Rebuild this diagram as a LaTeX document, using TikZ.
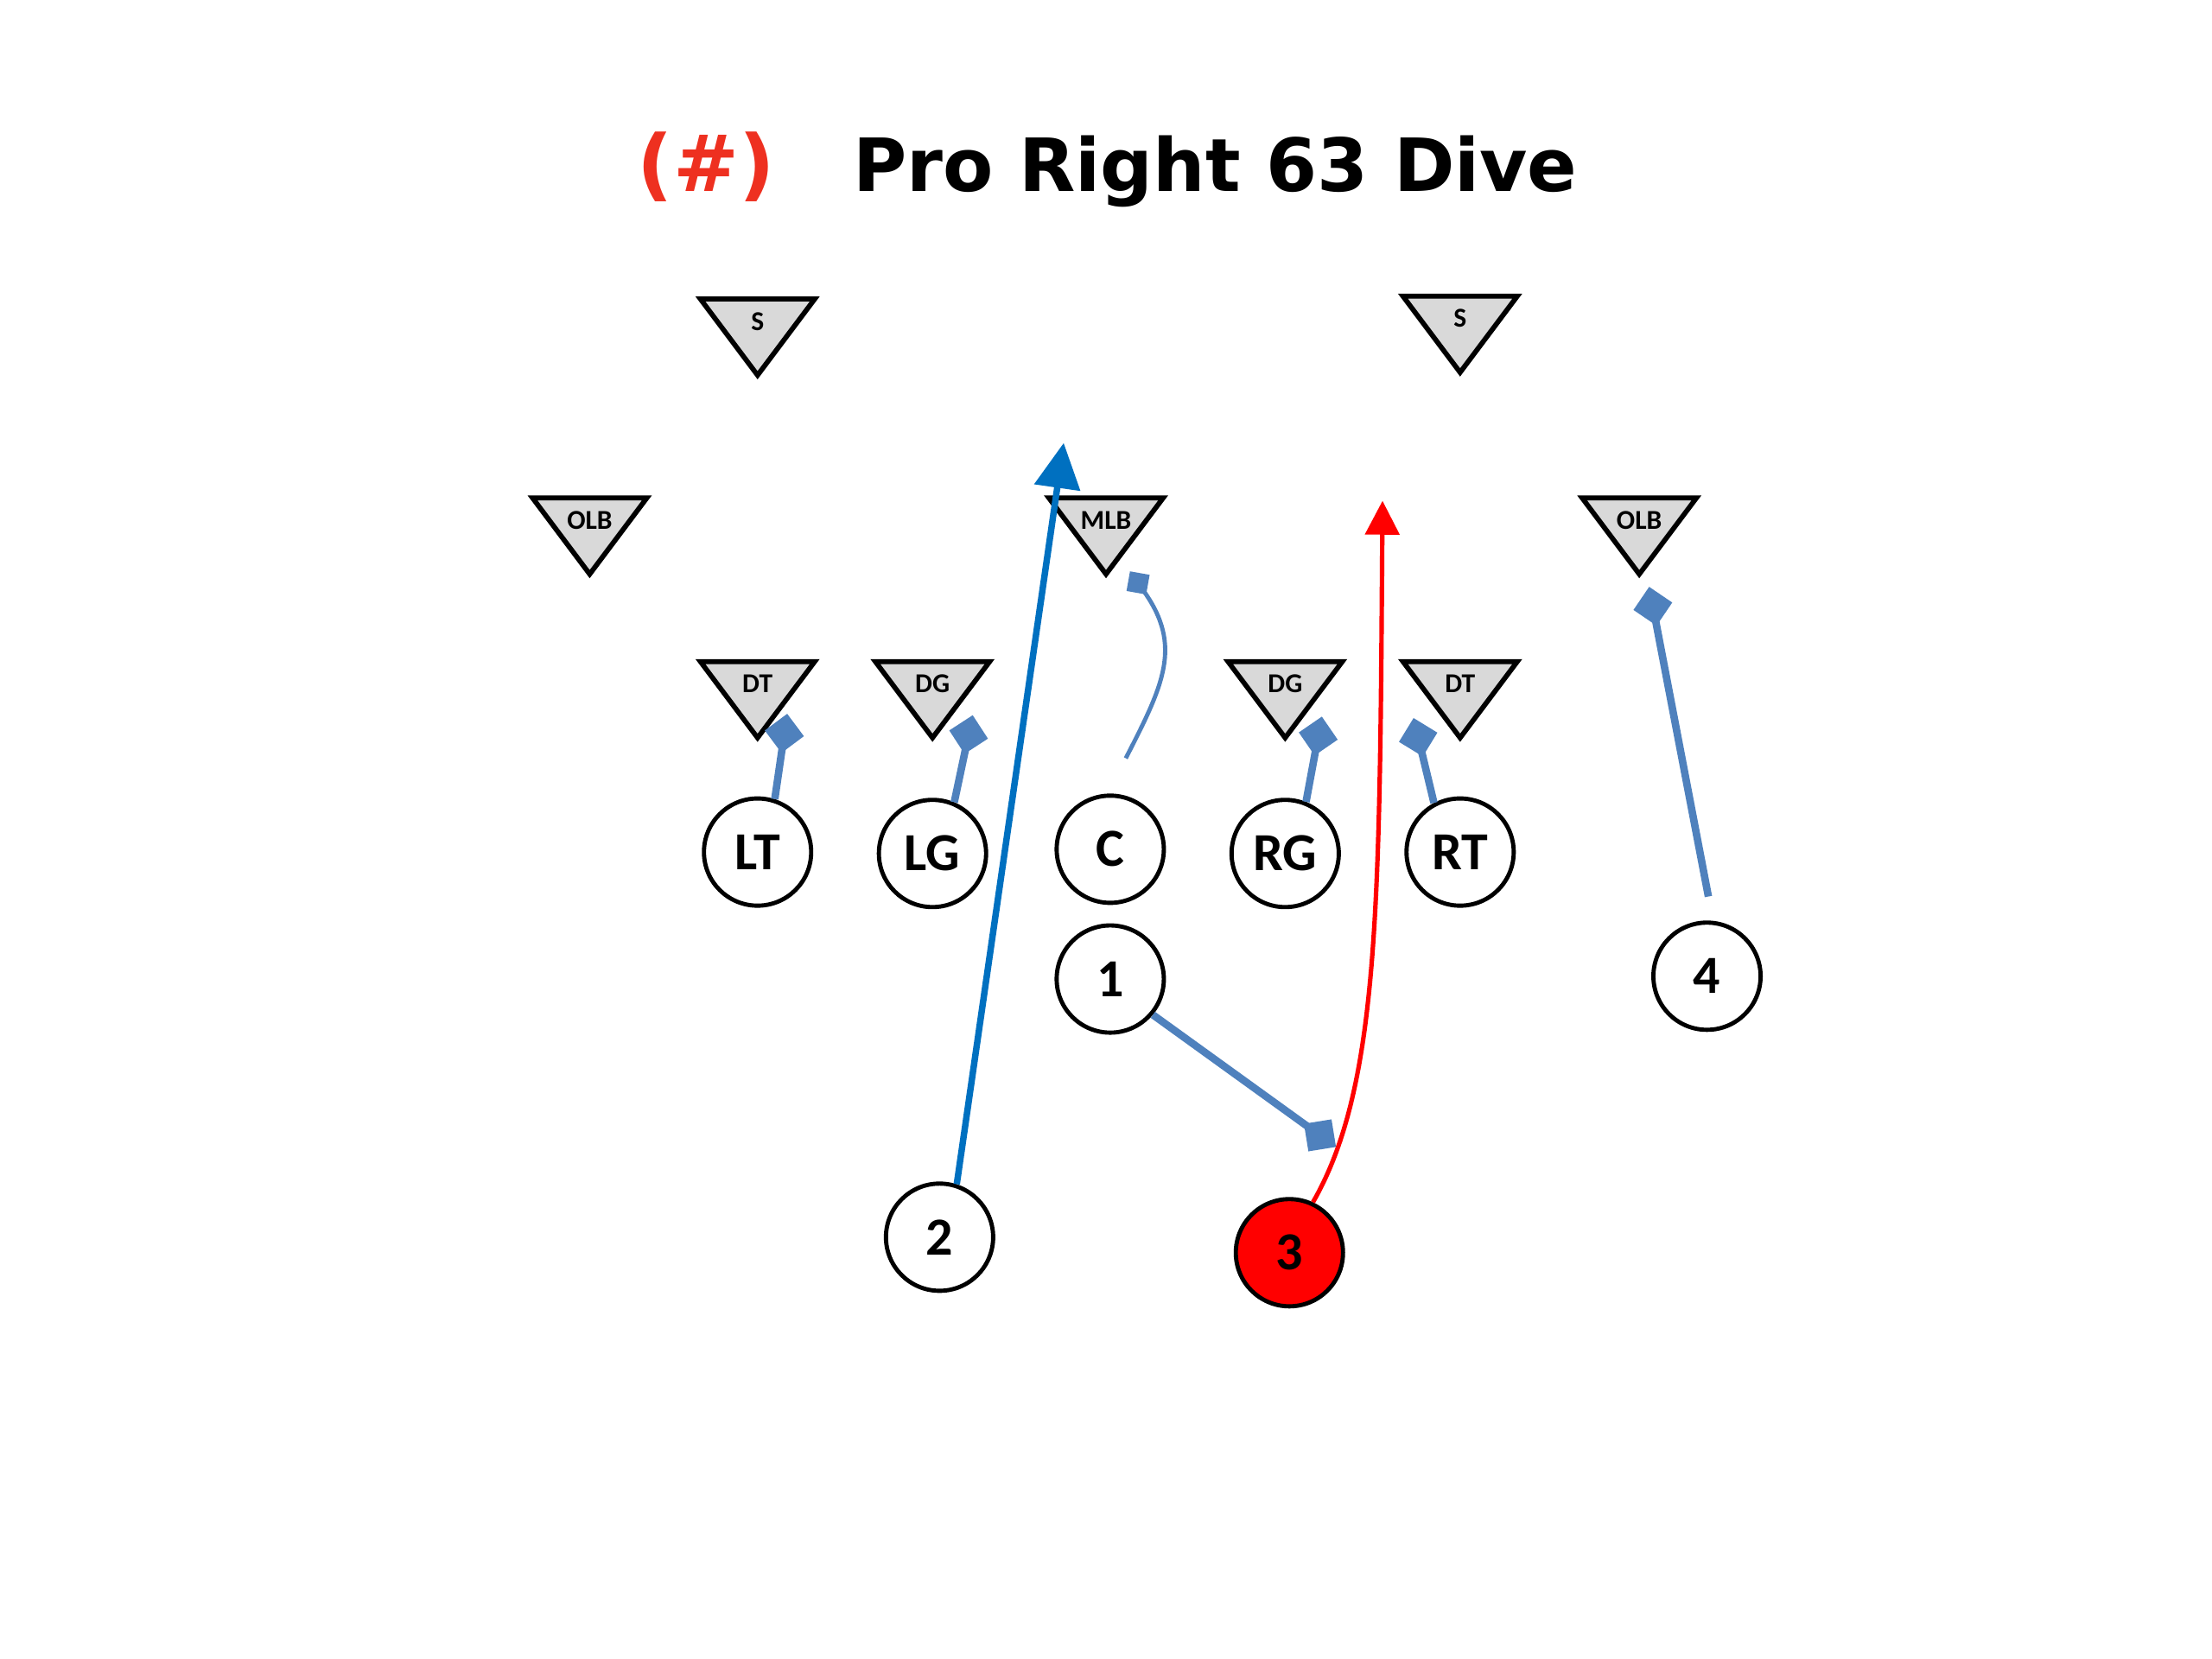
\documentclass[tikz,border=0pt]{standalone}
\usepackage{fontspec}
\usepackage{tikz}
\usetikzlibrary{arrows.meta,positioning,calc}

\newfontfamily\headfont{DejaVu Sans}
\newfontfamily\playfont{Carlito}

\definecolor{blockblue}{HTML}{4F81BD}
\definecolor{routeblue}{HTML}{0070C0}
\definecolor{runred}{HTML}{FF0000}
\definecolor{numred}{RGB}{238,48,32}
\definecolor{defgray}{HTML}{D9D9D9}

\tikzset{
  pics/defender/.style={code={
    \filldraw[fill=defgray,line width=1pt,line join=miter] (-0.405,0) -- (0.405,0) -- (0,-0.54) -- cycle;
    \node[deftext] (-lbl) at (0,-0.22) {#1};
  }}
}

\begin{document}
\begin{tikzpicture}[
  player/.style={circle,draw=black,line width=0.85pt,fill=white,minimum size=0.76cm,inner sep=0pt,font=\playfont\bfseries\fontsize{10.8}{12}\selectfont},
  carrier/.style={player,fill=runred},
  deftext/.style={anchor=base,inner sep=0pt,font=\playfont\bfseries\fontsize{5.5}{6}\selectfont},
  titletext/.style={inner sep=0pt,font=\headfont\bfseries\fontsize{14.8}{17}\selectfont},
  block/.style={color=blockblue,line width=1.5pt,-{Diamond[length=0.28cm,width=0.28cm]}},
  softblock/.style={color=blockblue,line width=0.85pt,-{Diamond[length=0.2cm,width=0.2cm]}},
  pass/.style={color=routeblue,line width=1.3pt,-{Triangle[length=0.32cm,width=0.32cm]}},
  run/.style={color=runred,line width=0.9pt,-{Triangle[length=0.24cm,width=0.24cm]}}
]
  \useasboundingbox (0,0) rectangle (15.68,-11.76);

  % title
  \node[titletext,anchor=base west] (title) at (6.04,-1.358) {Pro Right 63 Dive};
  \node[titletext,text=numred,font=\headfont\bfseries\fontsize{15.8}{18}\selectfont,base left=0.54cm of title] (playno) {(\#)};

  % defense
  \pic (ssl) at (5.37,-2.12) {defender=S};
  \pic (ssr) at (10.35,-2.10) {defender=S};
  \pic (olbl) at (4.18,-3.53) {defender=OLB};
  \pic (mlb) at (7.84,-3.53) {defender=MLB};
  \pic (olbr) at (11.62,-3.53) {defender=OLB};
  \pic (dtl) at (5.37,-4.69) {defender=DT};
  \pic (dgl) at (6.61,-4.69) {defender=DG};
  \pic (dgr) at (9.11,-4.69) {defender=DG};
  \pic (dtr) at (10.35,-4.69) {defender=DT};

  % offense
  \node[player] (plt) at (5.37,-6.04) {LT};
  \node[player] (plg) at (6.61,-6.05) {LG};
  \node[player] (pc) at (7.87,-6.02) {C};
  \node[player] (prg) at (9.11,-6.05) {RG};
  \node[player] (prt) at (10.35,-6.04) {RT};
  \node[player] (p1) at (7.87,-6.94) {1};
  \node[player] (p4) at (12.10,-6.92) {4};
  \node[player] (p2) at (6.66,-8.77) {2};
  \node[carrier] (p3) at (9.14,-8.88) {3};

  % routes
  \coordinate (passend) at (7.54,-3.14);
  \coordinate (runend) at (9.80,-3.55);
  \draw[pass] (p2.72) -- (passend);
  \draw[run] (p3.65) .. controls (9.78,-7.70) and (9.78,-6.40) .. (runend);

  % blocks
  \coordinate (lthit) at (5.58,-5.06);
  \coordinate (lghit) at (6.895,-5.07);
  \coordinate (rghit) at (9.37,-5.08);
  \coordinate (rthit) at (10.02,-5.09);
  \coordinate (mlbhit) at (8.01,-4.05);
  \coordinate (olbhit) at (11.69,-4.16);
  \coordinate (leadhit) at (9.47,-8.13);
  \draw[block] (plt.72) -- (lthit);
  \draw[block] (plg.67) -- (lghit);
  \draw[block] (prg.68) -- (rghit);
  \draw[block] (prt.118) -- (rthit);
  \draw[block] ([shift={(0.01,0.17)}]p4.north) -- (olbhit);
  \draw[block] (p1.-40) -- (leadhit);
  \draw[softblock] ([shift={(0.11,0.25)}]pc.north) .. controls (8.25,-4.85) and (8.38,-4.58) .. (mlbhit);
\end{tikzpicture}
\end{document}
